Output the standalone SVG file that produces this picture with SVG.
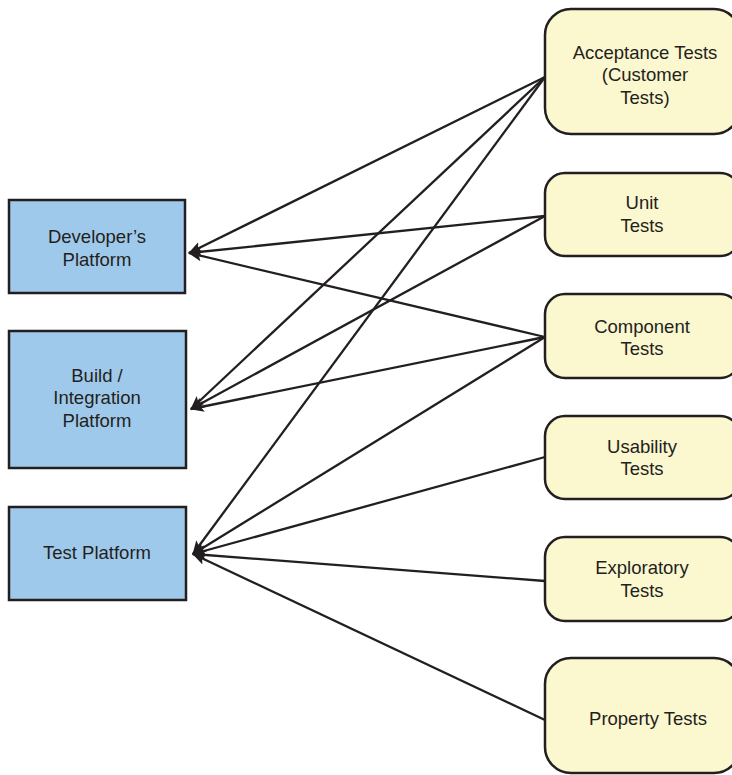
<svg xmlns="http://www.w3.org/2000/svg" width="732" height="775" viewBox="0 0 732 775">
  <style>
    .platform { fill: #9fc9ea; stroke: #231f20; stroke-width: 2.5; }
    .tests { fill: #fbf7cf; stroke: #231f20; stroke-width: 2.5; }
    .label { font-family: "Liberation Sans", Arial, sans-serif; font-size: 18.5px; fill: #231f20; text-anchor: middle; }
    .link { stroke: #231f20; stroke-width: 2.3; fill: none; marker-end: url(#arrow); }
  </style>
  <defs>
    <marker id="arrow" viewBox="0 0 14 12" refX="13" refY="6" markerWidth="14" markerHeight="12" markerUnits="userSpaceOnUse" orient="auto">
      <path d="M0,0.5 L14,6 L0,11.5 L3,6 Z" fill="#231f20"/>
    </marker>
  </defs>

  <rect width="732" height="775" fill="#ffffff"/>

  <!-- connectors: test kinds to platforms -->
  <g id="connectors">
    <line class="link" x1="545" y1="77" x2="189" y2="253"/>
    <line class="link" x1="545" y1="77" x2="191" y2="409"/>
    <line class="link" x1="545" y1="77" x2="193" y2="554"/>
    <line class="link" x1="545" y1="216" x2="189" y2="253"/>
    <line class="link" x1="545" y1="216" x2="191" y2="409"/>
    <line class="link" x1="545" y1="337" x2="189" y2="253"/>
    <line class="link" x1="545" y1="337" x2="191" y2="409"/>
    <line class="link" x1="545" y1="337" x2="193" y2="554"/>
    <line class="link" x1="545" y1="457" x2="193" y2="554"/>
    <line class="link" x1="545" y1="581" x2="193" y2="554"/>
    <line class="link" x1="545" y1="720" x2="193" y2="554"/>
  </g>

  <!-- platforms -->
  <g id="developers-platform">
    <rect class="platform" x="9" y="200" width="176" height="93"/>
    <text class="label" x="97" y="243">Developer’s</text>
    <text class="label" x="97" y="266">Platform</text>
  </g>
  <g id="build-integration-platform">
    <rect class="platform" x="9" y="331" width="177" height="137"/>
    <text class="label" x="97" y="382">Build /</text>
    <text class="label" x="97" y="404">Integration</text>
    <text class="label" x="97" y="427">Platform</text>
  </g>
  <g id="test-platform">
    <rect class="platform" x="9" y="507" width="177" height="93"/>
    <text class="label" x="97" y="559">Test Platform</text>
  </g>

  <!-- test kinds -->
  <g id="acceptance-tests">
    <rect class="tests" x="545" y="9" width="195" height="125" rx="26" ry="26"/>
    <text class="label" x="645" y="59">Acceptance Tests</text>
    <text class="label" x="645" y="81">(Customer</text>
    <text class="label" x="645" y="104">Tests)</text>
  </g>
  <g id="unit-tests">
    <rect class="tests" x="545" y="173" width="195" height="83" rx="20" ry="20"/>
    <text class="label" x="642" y="209">Unit</text>
    <text class="label" x="642" y="232">Tests</text>
  </g>
  <g id="component-tests">
    <rect class="tests" x="545" y="294" width="195" height="84" rx="20" ry="20"/>
    <text class="label" x="642" y="333">Component</text>
    <text class="label" x="642" y="355">Tests</text>
  </g>
  <g id="usability-tests">
    <rect class="tests" x="545" y="416" width="195" height="83" rx="20" ry="20"/>
    <text class="label" x="642" y="453">Usability</text>
    <text class="label" x="642" y="475">Tests</text>
  </g>
  <g id="exploratory-tests">
    <rect class="tests" x="545" y="537" width="195" height="84" rx="20" ry="20"/>
    <text class="label" x="642" y="574">Exploratory</text>
    <text class="label" x="642" y="597">Tests</text>
  </g>
  <g id="property-tests">
    <rect class="tests" x="545" y="658" width="195" height="115" rx="26" ry="26"/>
    <text class="label" x="648" y="725">Property Tests</text>
  </g>
</svg>
